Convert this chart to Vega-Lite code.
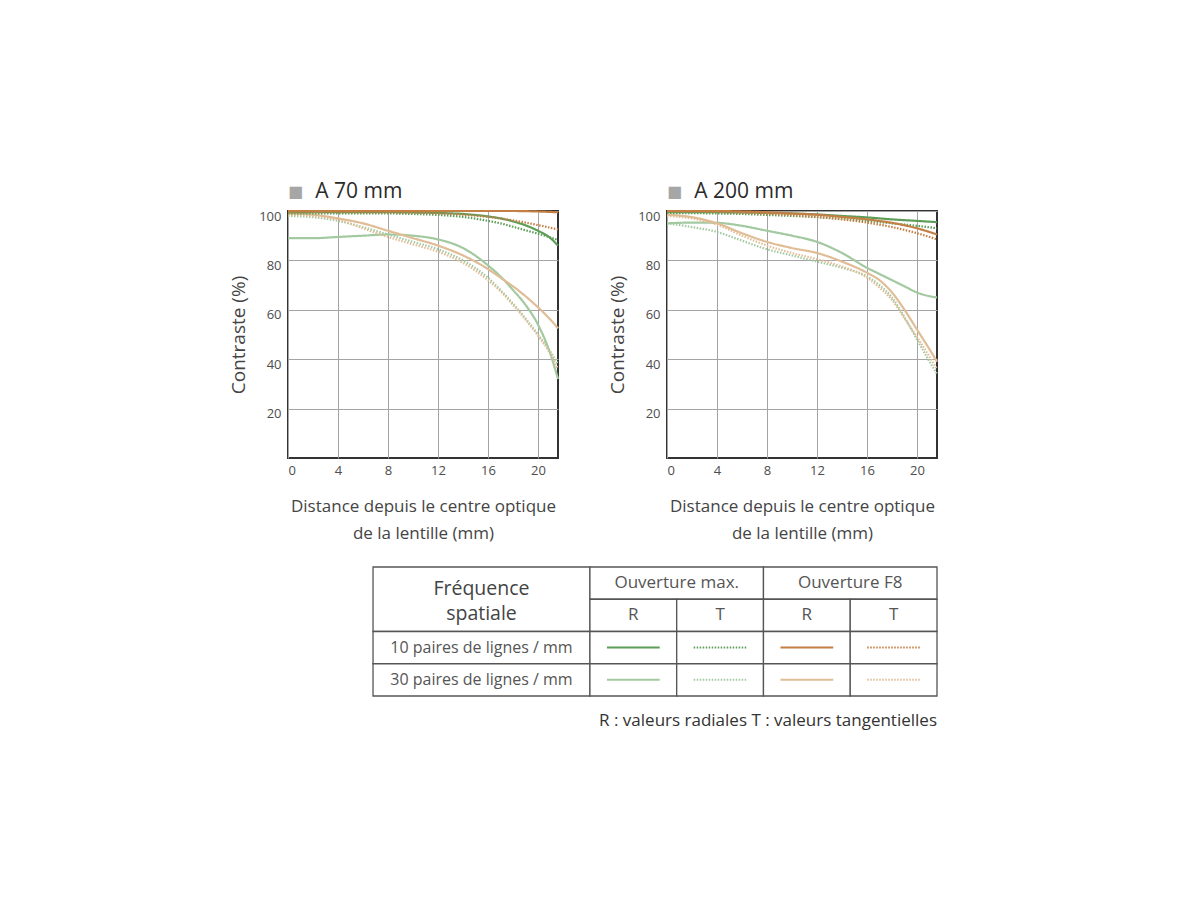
{
  "$schema": "https://vega.github.io/schema/vega-lite/v6.json",
  "background": "white",
  "padding": {"left": 228, "top": 180, "right": 5, "bottom": 5},
  "spacing": 24,
  "config": {
    "font": "Open Sans",
    "view": {"stroke": "#333333", "strokeWidth": 2},
    "axis": {
      "domain": false,
      "ticks": false,
      "gridColor": "#a4a4a4",
      "gridWidth": 1,
      "labelColor": "#4d4d4d",
      "labelFontSize": 13,
      "titleColor": "#444444",
      "titleFontWeight": "normal"
    }
  },
  "datasets": {
    "mtf": [
      {"p":"70","s":"30 max","d":"R","x":0,"y":89},{"p":"70","s":"30 max","d":"R","x":2,"y":89},{"p":"70","s":"30 max","d":"R","x":4,"y":89.5},{"p":"70","s":"30 max","d":"R","x":6,"y":90},{"p":"70","s":"30 max","d":"R","x":8,"y":90.5},{"p":"70","s":"30 max","d":"R","x":10,"y":90},{"p":"70","s":"30 max","d":"R","x":12,"y":88.5},{"p":"70","s":"30 max","d":"R","x":14,"y":85},{"p":"70","s":"30 max","d":"R","x":16,"y":78},{"p":"70","s":"30 max","d":"R","x":17,"y":73.5},{"p":"70","s":"30 max","d":"R","x":18,"y":68},{"p":"70","s":"30 max","d":"R","x":19,"y":62},{"p":"70","s":"30 max","d":"R","x":20,"y":54},{"p":"70","s":"30 max","d":"R","x":21,"y":42},{"p":"70","s":"30 max","d":"R","x":21.6,"y":32},
      {"p":"70","s":"30 max","d":"T","x":0,"y":98},{"p":"70","s":"30 max","d":"T","x":2,"y":97.5},{"p":"70","s":"30 max","d":"T","x":4,"y":96},{"p":"70","s":"30 max","d":"T","x":6,"y":93.5},{"p":"70","s":"30 max","d":"T","x":8,"y":90.5},{"p":"70","s":"30 max","d":"T","x":10,"y":87.5},{"p":"70","s":"30 max","d":"T","x":12,"y":84.5},{"p":"70","s":"30 max","d":"T","x":14,"y":80},{"p":"70","s":"30 max","d":"T","x":16,"y":73},{"p":"70","s":"30 max","d":"T","x":17,"y":68},{"p":"70","s":"30 max","d":"T","x":18,"y":62.5},{"p":"70","s":"30 max","d":"T","x":19,"y":56.5},{"p":"70","s":"30 max","d":"T","x":20,"y":50},{"p":"70","s":"30 max","d":"T","x":21,"y":43},{"p":"70","s":"30 max","d":"T","x":21.6,"y":38},
      {"p":"70","s":"30 F8","d":"R","x":0,"y":99},{"p":"70","s":"30 F8","d":"R","x":2,"y":98.5},{"p":"70","s":"30 F8","d":"R","x":4,"y":97},{"p":"70","s":"30 F8","d":"R","x":6,"y":95},{"p":"70","s":"30 F8","d":"R","x":8,"y":92},{"p":"70","s":"30 F8","d":"R","x":10,"y":89},{"p":"70","s":"30 F8","d":"R","x":12,"y":86},{"p":"70","s":"30 F8","d":"R","x":14,"y":82},{"p":"70","s":"30 F8","d":"R","x":16,"y":76.5},{"p":"70","s":"30 F8","d":"R","x":17,"y":73},{"p":"70","s":"30 F8","d":"R","x":18,"y":69.5},{"p":"70","s":"30 F8","d":"R","x":19,"y":65.5},{"p":"70","s":"30 F8","d":"R","x":20,"y":61},{"p":"70","s":"30 F8","d":"R","x":21,"y":56},{"p":"70","s":"30 F8","d":"R","x":21.6,"y":52.5},
      {"p":"70","s":"30 F8","d":"T","x":0,"y":98.5},{"p":"70","s":"30 F8","d":"T","x":2,"y":98},{"p":"70","s":"30 F8","d":"T","x":4,"y":96.5},{"p":"70","s":"30 F8","d":"T","x":6,"y":93},{"p":"70","s":"30 F8","d":"T","x":8,"y":89.5},{"p":"70","s":"30 F8","d":"T","x":10,"y":86.5},{"p":"70","s":"30 F8","d":"T","x":12,"y":83.5},{"p":"70","s":"30 F8","d":"T","x":14,"y":79},{"p":"70","s":"30 F8","d":"T","x":16,"y":72},{"p":"70","s":"30 F8","d":"T","x":17,"y":67.5},{"p":"70","s":"30 F8","d":"T","x":18,"y":62},{"p":"70","s":"30 F8","d":"T","x":19,"y":56},{"p":"70","s":"30 F8","d":"T","x":20,"y":49.5},{"p":"70","s":"30 F8","d":"T","x":21,"y":42},{"p":"70","s":"30 F8","d":"T","x":21.6,"y":36},
      {"p":"70","s":"10 max","d":"R","x":0,"y":99.5},{"p":"70","s":"10 max","d":"R","x":4,"y":99.5},{"p":"70","s":"10 max","d":"R","x":8,"y":99.5},{"p":"70","s":"10 max","d":"R","x":10,"y":99.4},{"p":"70","s":"10 max","d":"R","x":12,"y":99.2},{"p":"70","s":"10 max","d":"R","x":14,"y":98.8},{"p":"70","s":"10 max","d":"R","x":16,"y":97.8},{"p":"70","s":"10 max","d":"R","x":17,"y":97},{"p":"70","s":"10 max","d":"R","x":18,"y":95.8},{"p":"70","s":"10 max","d":"R","x":19,"y":94.2},{"p":"70","s":"10 max","d":"R","x":20,"y":92},{"p":"70","s":"10 max","d":"R","x":21,"y":89},{"p":"70","s":"10 max","d":"R","x":21.6,"y":86},
      {"p":"70","s":"10 max","d":"T","x":0,"y":99},{"p":"70","s":"10 max","d":"T","x":4,"y":99},{"p":"70","s":"10 max","d":"T","x":8,"y":99},{"p":"70","s":"10 max","d":"T","x":10,"y":98.8},{"p":"70","s":"10 max","d":"T","x":12,"y":98.4},{"p":"70","s":"10 max","d":"T","x":14,"y":97.6},{"p":"70","s":"10 max","d":"T","x":16,"y":96},{"p":"70","s":"10 max","d":"T","x":17,"y":95},{"p":"70","s":"10 max","d":"T","x":18,"y":93.6},{"p":"70","s":"10 max","d":"T","x":19,"y":92.2},{"p":"70","s":"10 max","d":"T","x":20,"y":90.8},{"p":"70","s":"10 max","d":"T","x":21,"y":89.3},{"p":"70","s":"10 max","d":"T","x":21.6,"y":88.3},
      {"p":"70","s":"10 F8","d":"R","x":0,"y":100},{"p":"70","s":"10 F8","d":"R","x":4,"y":100},{"p":"70","s":"10 F8","d":"R","x":8,"y":100},{"p":"70","s":"10 F8","d":"R","x":12,"y":100},{"p":"70","s":"10 F8","d":"R","x":16,"y":100},{"p":"70","s":"10 F8","d":"R","x":18,"y":100},{"p":"70","s":"10 F8","d":"R","x":20,"y":99.8},{"p":"70","s":"10 F8","d":"R","x":21.6,"y":99.5},
      {"p":"70","s":"10 F8","d":"T","x":0,"y":99.5},{"p":"70","s":"10 F8","d":"T","x":4,"y":99.5},{"p":"70","s":"10 F8","d":"T","x":8,"y":99.4},{"p":"70","s":"10 F8","d":"T","x":10,"y":99.3},{"p":"70","s":"10 F8","d":"T","x":12,"y":99},{"p":"70","s":"10 F8","d":"T","x":14,"y":98.5},{"p":"70","s":"10 F8","d":"T","x":16,"y":97.6},{"p":"70","s":"10 F8","d":"T","x":17,"y":97},{"p":"70","s":"10 F8","d":"T","x":18,"y":96.2},{"p":"70","s":"10 F8","d":"T","x":19,"y":95.3},{"p":"70","s":"10 F8","d":"T","x":20,"y":94.3},{"p":"70","s":"10 F8","d":"T","x":21,"y":93.2},{"p":"70","s":"10 F8","d":"T","x":21.6,"y":92.5},
      {"p":"200","s":"30 max","d":"R","x":0,"y":95},{"p":"200","s":"30 max","d":"R","x":2,"y":95.3},{"p":"200","s":"30 max","d":"R","x":4,"y":95.2},{"p":"200","s":"30 max","d":"R","x":6,"y":94},{"p":"200","s":"30 max","d":"R","x":8,"y":92},{"p":"200","s":"30 max","d":"R","x":10,"y":90},{"p":"200","s":"30 max","d":"R","x":12,"y":87.5},{"p":"200","s":"30 max","d":"R","x":14,"y":83},{"p":"200","s":"30 max","d":"R","x":16,"y":77},{"p":"200","s":"30 max","d":"R","x":17,"y":74.5},{"p":"200","s":"30 max","d":"R","x":18,"y":72},{"p":"200","s":"30 max","d":"R","x":19,"y":69.5},{"p":"200","s":"30 max","d":"R","x":20,"y":67},{"p":"200","s":"30 max","d":"R","x":21,"y":65.5},{"p":"200","s":"30 max","d":"R","x":21.6,"y":65},
      {"p":"200","s":"30 max","d":"T","x":0,"y":95},{"p":"200","s":"30 max","d":"T","x":2,"y":93.5},{"p":"200","s":"30 max","d":"T","x":4,"y":91.5},{"p":"200","s":"30 max","d":"T","x":6,"y":88},{"p":"200","s":"30 max","d":"T","x":8,"y":84.5},{"p":"200","s":"30 max","d":"T","x":10,"y":82},{"p":"200","s":"30 max","d":"T","x":12,"y":79.5},{"p":"200","s":"30 max","d":"T","x":14,"y":77},{"p":"200","s":"30 max","d":"T","x":16,"y":73.5},{"p":"200","s":"30 max","d":"T","x":17,"y":70},{"p":"200","s":"30 max","d":"T","x":18,"y":65},{"p":"200","s":"30 max","d":"T","x":19,"y":57},{"p":"200","s":"30 max","d":"T","x":20,"y":48},{"p":"200","s":"30 max","d":"T","x":21,"y":39},{"p":"200","s":"30 max","d":"T","x":21.6,"y":34},
      {"p":"200","s":"30 F8","d":"R","x":0,"y":98.5},{"p":"200","s":"30 F8","d":"R","x":2,"y":97.5},{"p":"200","s":"30 F8","d":"R","x":4,"y":95},{"p":"200","s":"30 F8","d":"R","x":6,"y":91},{"p":"200","s":"30 F8","d":"R","x":8,"y":87.5},{"p":"200","s":"30 F8","d":"R","x":10,"y":85},{"p":"200","s":"30 F8","d":"R","x":12,"y":83},{"p":"200","s":"30 F8","d":"R","x":14,"y":79.5},{"p":"200","s":"30 F8","d":"R","x":16,"y":75},{"p":"200","s":"30 F8","d":"R","x":17,"y":72},{"p":"200","s":"30 F8","d":"R","x":18,"y":67},{"p":"200","s":"30 F8","d":"R","x":19,"y":60},{"p":"200","s":"30 F8","d":"R","x":20,"y":52},{"p":"200","s":"30 F8","d":"R","x":21,"y":44},{"p":"200","s":"30 F8","d":"R","x":21.6,"y":39},
      {"p":"200","s":"30 F8","d":"T","x":0,"y":98},{"p":"200","s":"30 F8","d":"T","x":2,"y":97},{"p":"200","s":"30 F8","d":"T","x":4,"y":94.5},{"p":"200","s":"30 F8","d":"T","x":6,"y":90},{"p":"200","s":"30 F8","d":"T","x":8,"y":86},{"p":"200","s":"30 F8","d":"T","x":10,"y":83},{"p":"200","s":"30 F8","d":"T","x":12,"y":80.5},{"p":"200","s":"30 F8","d":"T","x":14,"y":77.5},{"p":"200","s":"30 F8","d":"T","x":16,"y":73},{"p":"200","s":"30 F8","d":"T","x":17,"y":69},{"p":"200","s":"30 F8","d":"T","x":18,"y":64},{"p":"200","s":"30 F8","d":"T","x":19,"y":56.5},{"p":"200","s":"30 F8","d":"T","x":20,"y":49},{"p":"200","s":"30 F8","d":"T","x":21,"y":41},{"p":"200","s":"30 F8","d":"T","x":21.6,"y":36},
      {"p":"200","s":"10 max","d":"R","x":0,"y":99.5},{"p":"200","s":"10 max","d":"R","x":4,"y":99.5},{"p":"200","s":"10 max","d":"R","x":6,"y":99.4},{"p":"200","s":"10 max","d":"R","x":8,"y":99.2},{"p":"200","s":"10 max","d":"R","x":10,"y":99},{"p":"200","s":"10 max","d":"R","x":12,"y":98.6},{"p":"200","s":"10 max","d":"R","x":14,"y":98},{"p":"200","s":"10 max","d":"R","x":16,"y":97.4},{"p":"200","s":"10 max","d":"R","x":18,"y":96.6},{"p":"200","s":"10 max","d":"R","x":20,"y":96},{"p":"200","s":"10 max","d":"R","x":21.6,"y":95.5},
      {"p":"200","s":"10 max","d":"T","x":0,"y":99.2},{"p":"200","s":"10 max","d":"T","x":4,"y":99},{"p":"200","s":"10 max","d":"T","x":6,"y":98.8},{"p":"200","s":"10 max","d":"T","x":8,"y":98.4},{"p":"200","s":"10 max","d":"T","x":10,"y":98},{"p":"200","s":"10 max","d":"T","x":12,"y":97.5},{"p":"200","s":"10 max","d":"T","x":14,"y":96.8},{"p":"200","s":"10 max","d":"T","x":16,"y":96},{"p":"200","s":"10 max","d":"T","x":18,"y":95},{"p":"200","s":"10 max","d":"T","x":20,"y":94},{"p":"200","s":"10 max","d":"T","x":21.6,"y":93},
      {"p":"200","s":"10 F8","d":"R","x":0,"y":100},{"p":"200","s":"10 F8","d":"R","x":4,"y":100},{"p":"200","s":"10 F8","d":"R","x":6,"y":99.8},{"p":"200","s":"10 F8","d":"R","x":8,"y":99.5},{"p":"200","s":"10 F8","d":"R","x":10,"y":99},{"p":"200","s":"10 F8","d":"R","x":12,"y":98.5},{"p":"200","s":"10 F8","d":"R","x":14,"y":97.6},{"p":"200","s":"10 F8","d":"R","x":16,"y":96.6},{"p":"200","s":"10 F8","d":"R","x":18,"y":95.2},{"p":"200","s":"10 F8","d":"R","x":20,"y":93},{"p":"200","s":"10 F8","d":"R","x":21,"y":91.5},{"p":"200","s":"10 F8","d":"R","x":21.6,"y":90.5},
      {"p":"200","s":"10 F8","d":"T","x":0,"y":99.8},{"p":"200","s":"10 F8","d":"T","x":4,"y":99.6},{"p":"200","s":"10 F8","d":"T","x":6,"y":99.3},{"p":"200","s":"10 F8","d":"T","x":8,"y":98.8},{"p":"200","s":"10 F8","d":"T","x":10,"y":98.3},{"p":"200","s":"10 F8","d":"T","x":12,"y":97.6},{"p":"200","s":"10 F8","d":"T","x":14,"y":96.6},{"p":"200","s":"10 F8","d":"T","x":16,"y":95.3},{"p":"200","s":"10 F8","d":"T","x":18,"y":93.5},{"p":"200","s":"10 F8","d":"T","x":20,"y":91},{"p":"200","s":"10 F8","d":"T","x":21,"y":89.5},{"p":"200","s":"10 F8","d":"T","x":21.6,"y":88.5}
    ],
    "cellules": [
      {"c0":0,"c1":2.5,"r0":0,"r1":2},
      {"c0":2.5,"c1":4.5,"r0":0,"r1":1},
      {"c0":4.5,"c1":6.5,"r0":0,"r1":1},
      {"c0":2.5,"c1":3.5,"r0":1,"r1":2},
      {"c0":3.5,"c1":4.5,"r0":1,"r1":2},
      {"c0":4.5,"c1":5.5,"r0":1,"r1":2},
      {"c0":5.5,"c1":6.5,"r0":1,"r1":2},
      {"c0":0,"c1":2.5,"r0":2,"r1":3},
      {"c0":2.5,"c1":3.5,"r0":2,"r1":3},
      {"c0":3.5,"c1":4.5,"r0":2,"r1":3},
      {"c0":4.5,"c1":5.5,"r0":2,"r1":3},
      {"c0":5.5,"c1":6.5,"r0":2,"r1":3},
      {"c0":0,"c1":2.5,"r0":3,"r1":4},
      {"c0":2.5,"c1":3.5,"r0":3,"r1":4},
      {"c0":3.5,"c1":4.5,"r0":3,"r1":4},
      {"c0":4.5,"c1":5.5,"r0":3,"r1":4},
      {"c0":5.5,"c1":6.5,"r0":3,"r1":4}
    ],
    "textes": [
      {"k":"titre","cx":1.25,"cy":1,"t":"Fréquence\nspatiale"},
      {"k":"entete","cx":3.5,"cy":0.5,"t":"Ouverture max."},
      {"k":"entete","cx":5.5,"cy":0.5,"t":"Ouverture F8"},
      {"k":"entete","cx":3,"cy":1.5,"t":"R"},
      {"k":"entete","cx":4,"cy":1.5,"t":"T"},
      {"k":"entete","cx":5,"cy":1.5,"t":"R"},
      {"k":"entete","cx":6,"cy":1.5,"t":"T"},
      {"k":"ligne","cx":1.25,"cy":2.5,"t":"10 paires de lignes / mm"},
      {"k":"ligne","cx":1.25,"cy":3.5,"t":"30 paires de lignes / mm"}
    ],
    "echantillons": [
      {"c0":2.5,"c1":3.5,"r0":2,"s":"10 max","d":"R"},
      {"c0":3.5,"c1":4.5,"r0":2,"s":"10 max","d":"T"},
      {"c0":4.5,"c1":5.5,"r0":2,"s":"10 F8","d":"R"},
      {"c0":5.5,"c1":6.5,"r0":2,"s":"10 F8","d":"T"},
      {"c0":2.5,"c1":3.5,"r0":3,"s":"30 max","d":"R"},
      {"c0":3.5,"c1":4.5,"r0":3,"s":"30 max","d":"T"},
      {"c0":4.5,"c1":5.5,"r0":3,"s":"30 F8","d":"R"},
      {"c0":5.5,"c1":6.5,"r0":3,"s":"30 F8","d":"T"}
    ]
  },
  "vconcat": [
    {
      "spacing": 43,
      "hconcat": [
        {
          "width": 270,
          "height": 247,
          "title": {"text": "■", "subtitle": "\u200b\u00a0\u00a0\u00a0\u00a0\u00a0A 70 mm", "anchor": "start", "frame": "group", "color": "#a6a6a6", "fontSize": 16, "font": "DejaVu Sans", "subtitleColor": "#2b2b2b", "subtitleFontSize": 21, "subtitleFont": "Open Sans", "subtitlePadding": -18.5, "offset": 2},
          "data": {"name": "mtf"},
          "transform": [{"filter": "datum.p == '70'"}],
          "mark": {"type": "line", "interpolate": "monotone"},
          "encoding": {
            "x": {"field": "x", "type": "quantitative", "scale": {"domain": [0, 21.6], "nice": false}, "axis": {"values": [0, 4, 8, 12, 16, 20], "labelPadding": 6, "titlePadding": 21, "titleFontSize": 17, "titleLineHeight": 27, "title": ["Distance depuis le centre optique", "de la lentille (mm)"]}},
            "y": {"field": "y", "type": "quantitative", "scale": {"domain": [0, 100], "nice": false}, "axis": {"values": [20, 40, 60, 80, 100], "labelPadding": 7, "labelOffset": 5, "titlePadding": 10, "titleFontSize": 19, "title": "Contraste (%)"}},
            "color": {"field": "s", "type": "nominal", "scale": {"domain": ["10 max", "10 F8", "30 max", "30 F8"], "range": ["#5c9e58", "#c47f45", "#a3c9a0", "#e0bd96"]}, "legend": null},
            "strokeWidth": {"field": "s", "type": "nominal", "scale": {"domain": ["10 max", "10 F8", "30 max", "30 F8"], "range": [2.2, 2.2, 1.4, 1.4]}, "legend": null},
            "strokeDash": {"field": "d", "type": "nominal", "scale": {"domain": ["R", "T"], "range": [[1, 0], [1.5, 1.5]]}, "legend": null}
          }
        },
        {
          "width": 270,
          "height": 247,
          "title": {"text": "■", "subtitle": "\u200b\u00a0\u00a0\u00a0\u00a0\u00a0A 200 mm", "anchor": "start", "frame": "group", "color": "#a6a6a6", "fontSize": 16, "font": "DejaVu Sans", "subtitleColor": "#2b2b2b", "subtitleFontSize": 21, "subtitleFont": "Open Sans", "subtitlePadding": -18.5, "offset": 2},
          "data": {"name": "mtf"},
          "transform": [{"filter": "datum.p == '200'"}],
          "mark": {"type": "line", "interpolate": "monotone"},
          "encoding": {
            "x": {"field": "x", "type": "quantitative", "scale": {"domain": [0, 21.6], "nice": false}, "axis": {"values": [0, 4, 8, 12, 16, 20], "labelPadding": 6, "titlePadding": 21, "titleFontSize": 17, "titleLineHeight": 27, "title": ["Distance depuis le centre optique", "de la lentille (mm)"]}},
            "y": {"field": "y", "type": "quantitative", "scale": {"domain": [0, 100], "nice": false}, "axis": {"values": [20, 40, 60, 80, 100], "labelPadding": 7, "labelOffset": 5, "titlePadding": 10, "titleFontSize": 19, "title": "Contraste (%)"}},
            "color": {"field": "s", "type": "nominal", "scale": {"domain": ["10 max", "10 F8", "30 max", "30 F8"], "range": ["#5c9e58", "#c47f45", "#a3c9a0", "#e0bd96"]}, "legend": null},
            "strokeWidth": {"field": "s", "type": "nominal", "scale": {"domain": ["10 max", "10 F8", "30 max", "30 F8"], "range": [2.2, 2.2, 1.4, 1.4]}, "legend": null},
            "strokeDash": {"field": "d", "type": "nominal", "scale": {"domain": ["R", "T"], "range": [[1, 0], [1.5, 1.5]]}, "legend": null}
          }
        }
      ]
    },
    {
      "width": 649,
      "height": 129,
      "view": {"stroke": null},
      "title": {"text": "R : valeurs radiales  T : valeurs tangentielles", "orient": "bottom", "anchor": "end", "frame": "group", "fontSize": 17, "fontWeight": "normal", "color": "#333333", "offset": 16},
      "layer": [
        {
          "data": {"name": "cellules"},
          "mark": {"type": "rect", "fill": "white", "stroke": "#555555", "strokeWidth": 1.3},
          "encoding": {
            "x": {"field": "c0", "type": "quantitative", "scale": {"domain": [-0.98, 6.5], "nice": false, "zero": false}, "axis": null},
            "x2": {"field": "c1"},
            "y": {"field": "r0", "type": "quantitative", "scale": {"domain": [0, 4], "nice": false, "reverse": true}, "axis": null},
            "y2": {"field": "r1"}
          }
        },
        {
          "data": {"name": "textes"},
          "transform": [{"filter": "datum.k == 'titre'"}],
          "mark": {"type": "text", "fontSize": 19.5, "color": "#444444", "lineBreak": "\n", "lineHeight": 25, "align": "center", "baseline": "middle", "dy": -10},
          "encoding": {
            "x": {"field": "cx", "type": "quantitative"},
            "y": {"field": "cy", "type": "quantitative"},
            "text": {"field": "t"}
          }
        },
        {
          "data": {"name": "textes"},
          "transform": [{"filter": "datum.k == 'entete'"}],
          "mark": {"type": "text", "fontSize": 17, "color": "#555555", "align": "center", "baseline": "middle"},
          "encoding": {
            "x": {"field": "cx", "type": "quantitative"},
            "y": {"field": "cy", "type": "quantitative"},
            "text": {"field": "t"}
          }
        },
        {
          "data": {"name": "textes"},
          "transform": [{"filter": "datum.k == 'ligne'"}],
          "mark": {"type": "text", "fontSize": 16, "color": "#555555", "align": "center", "baseline": "middle"},
          "encoding": {
            "x": {"field": "cx", "type": "quantitative"},
            "y": {"field": "cy", "type": "quantitative"},
            "text": {"field": "t"}
          }
        },
        {
          "data": {"name": "echantillons"},
          "mark": {"type": "rule", "xOffset": 17, "x2Offset": -17, "yOffset": 16, "y2Offset": 16},
          "encoding": {
            "x": {"field": "c0", "type": "quantitative"},
            "x2": {"field": "c1"},
            "y": {"field": "r0", "type": "quantitative"},
            "color": {"field": "s", "type": "nominal", "scale": {"domain": ["10 max", "10 F8", "30 max", "30 F8"], "range": ["#5c9e58", "#c47f45", "#a3c9a0", "#e0bd96"]}, "legend": null},
            "strokeWidth": {"field": "s", "type": "nominal", "scale": {"domain": ["10 max", "10 F8", "30 max", "30 F8"], "range": [2.6, 2.6, 1.5, 1.5]}, "legend": null},
            "strokeDash": {"field": "d", "type": "nominal", "scale": {"domain": ["R", "T"], "range": [[1, 0], [1.5, 1.5]]}, "legend": null}
          }
        }
      ]
    }
  ]
}
